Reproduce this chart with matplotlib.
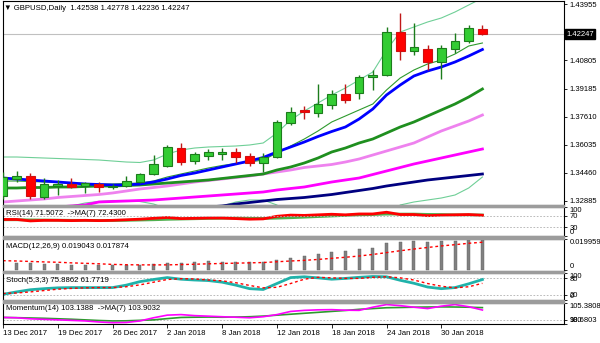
import matplotlib
matplotlib.use("Agg")
import matplotlib.pyplot as plt
import numpy as np
from matplotlib.patches import Rectangle

plt.rcParams['font.family'] = ['Liberation Sans', 'DejaVu Sans']
plt.rcParams['font.size'] = 5.6

# GBPUSD daily candles, 13 Dec 2017 .. 1 Feb 2018
opens = [1.33157, 1.34113, 1.34282, 1.33073, 1.33747, 1.33832, 1.33719, 1.33815, 1.33646, 1.33719,
         1.33961, 1.34378, 1.34844, 1.35873, 1.35142, 1.35423, 1.35536, 1.35648, 1.35407, 1.34996,
         1.35333, 1.37246, 1.37994, 1.37842, 1.38292, 1.38893, 1.38967, 1.39866, 1.39962, 1.42363,
         1.41312, 1.41407, 1.40710, 1.41441, 1.41891, 1.42538]
highs = [1.34507, 1.34591, 1.34467, 1.34169, 1.34029, 1.34152, 1.33961, 1.33961, 1.33832, 1.34299,
         1.34467, 1.35463, 1.36025, 1.36121, 1.35648, 1.35800, 1.35840, 1.35840, 1.35592, 1.35558,
         1.37431, 1.38179, 1.38219, 1.39456, 1.39118, 1.39456, 1.39962, 1.40243, 1.42645, 1.43466,
         1.42870, 1.41632, 1.41649, 1.42341, 1.42774, 1.42778]
lows = [1.32988, 1.33944, 1.32971, 1.33016, 1.33213, 1.33607, 1.33326, 1.33399, 1.33551, 1.33663,
        1.33916, 1.34310, 1.34788, 1.34900, 1.34957, 1.35182, 1.35182, 1.34996, 1.34861, 1.34524,
        1.35294, 1.37178, 1.37471, 1.37583, 1.38033, 1.38370, 1.38595, 1.39118, 1.39906, 1.40806,
        1.41087, 1.40243, 1.39737, 1.41216, 1.41745, 1.42236]
closes = [1.34242, 1.34282, 1.33185, 1.33815, 1.33804, 1.33680, 1.33871, 1.33646, 1.33719, 1.34001,
          1.34378, 1.34957, 1.35885, 1.35086, 1.35491, 1.35648, 1.35648, 1.35367, 1.35030, 1.35333,
          1.37302, 1.37898, 1.37881, 1.38314, 1.38893, 1.38556, 1.39833, 1.39962, 1.42363, 1.41312,
          1.41520, 1.40710, 1.41464, 1.41891, 1.42605, 1.42247]

# moving averages / bands on the price chart
band_upper = [1.35350, 1.35350, 1.35322, 1.35294, 1.35266, 1.35238, 1.35210, 1.35182, 1.35125, 1.35069,
              1.35041, 1.35182, 1.35519, 1.35744, 1.35856, 1.35913, 1.35941, 1.35969, 1.36025, 1.36138,
              1.36700, 1.37431, 1.37937, 1.38387, 1.38837, 1.39231, 1.39681, 1.40131, 1.41368, 1.42380,
              1.42662, 1.42943, 1.43168, 1.43505, 1.43899, 1.44292]
band_lower = [1.32370, 1.32426, 1.32482, 1.32538, 1.32595, 1.32595, 1.32764, 1.32848, 1.32904, 1.32904,
              1.32848, 1.32707, 1.32426, 1.32257, 1.32257, 1.32370, 1.32595, 1.32820, 1.32932, 1.32932,
              1.32651, 1.32088, 1.31695, 1.31470, 1.31357, 1.31301, 1.31357, 1.31470, 1.31920, 1.32651,
              1.32820, 1.32932, 1.33044, 1.33213, 1.33607, 1.34226]
ma_fast = [1.34001, 1.34001, 1.33972, 1.33944, 1.33916, 1.33888, 1.33860, 1.33832, 1.33832, 1.33860,
           1.33888, 1.34001, 1.34226, 1.34394, 1.34563, 1.34732, 1.34872, 1.34985, 1.35069, 1.35182,
           1.35575, 1.35969, 1.36363, 1.36813, 1.37319, 1.37656, 1.37994, 1.38331, 1.39118, 1.39793,
           1.40243, 1.40581, 1.40806, 1.41143, 1.41593, 1.41762]
ma_blue = [1.34169, 1.34113, 1.34057, 1.34001, 1.33944, 1.33888, 1.33832, 1.33804, 1.33776, 1.33776,
           1.33832, 1.33944, 1.34113, 1.34310, 1.34450, 1.34619, 1.34788, 1.34957, 1.35125, 1.35322,
           1.35632, 1.35913, 1.36194, 1.36503, 1.36784, 1.37038, 1.37487, 1.38050, 1.38837, 1.39400,
           1.39906, 1.40187, 1.40412, 1.40693, 1.41031, 1.41396]
ma_green = [1.33607, 1.33607, 1.33635, 1.33635, 1.33663, 1.33663, 1.33691, 1.33719, 1.33719, 1.33747,
            1.33776, 1.33832, 1.33888, 1.33944, 1.34001, 1.34057, 1.34141, 1.34226, 1.34310, 1.34394,
            1.34619, 1.34788, 1.35013, 1.35294, 1.35632, 1.35856, 1.36138, 1.36363, 1.36700, 1.37038,
            1.37319, 1.37656, 1.37994, 1.38331, 1.38725, 1.39175]
ma_violet = [1.32820, 1.32876, 1.32932, 1.32988, 1.33073, 1.33129, 1.33185, 1.33241, 1.33326, 1.33438,
             1.33551, 1.33635, 1.33719, 1.33832, 1.33944, 1.34029, 1.34113, 1.34197, 1.34282, 1.34394,
             1.34507, 1.34619, 1.34760, 1.34844, 1.34929, 1.35069, 1.35238, 1.35463, 1.35688, 1.35913,
             1.36138, 1.36475, 1.36813, 1.37094, 1.37375, 1.37712]
ma_magenta = [1.32313, 1.32370, 1.32426, 1.32482, 1.32538, 1.32595, 1.32651, 1.32820, 1.32848, 1.32876,
              1.32904, 1.32932, 1.32988, 1.33044, 1.33101, 1.33157, 1.33213, 1.33269, 1.33326, 1.33382,
              1.33494, 1.33579, 1.33663, 1.33804, 1.33944, 1.34057, 1.34169, 1.34366, 1.34563, 1.34760,
              1.34957, 1.35125, 1.35294, 1.35463, 1.35632, 1.35800]
ma_navy = [1.31695, 1.31751, 1.31807, 1.31863, 1.31920, 1.31976, 1.32032, 1.32088, 1.32145, 1.32201,
           1.32257, 1.32313, 1.32370, 1.32426, 1.32482, 1.32538, 1.32595, 1.32707, 1.32791, 1.32876,
           1.32960, 1.33016, 1.33073, 1.33157, 1.33241, 1.33354, 1.33466, 1.33579, 1.33719, 1.33832,
           1.33944, 1.34057, 1.34141, 1.34226, 1.34310, 1.34394]

rsi = [57, 57, 52, 54, 54, 53, 54, 53, 54, 56, 58, 61, 64, 60, 61, 62, 62, 60, 58, 59,
       68, 72, 71, 73, 75, 73, 76, 76, 82, 74, 74, 70, 72, 73, 74, 71.5072]
rsi_ma = [56, 56, 55.5, 55, 54.5, 54, 54, 53.5, 53.5, 54, 55, 56, 57.5, 58.5, 59.5, 60.5, 61, 61.5, 61, 60.5,
          61.5, 63, 65, 67, 69, 71, 73, 74, 75.5, 75.5, 75.5, 74.5, 74, 73, 73, 72.43]

macd = [0.0045, 0.0045, 0.0043, 0.0040, 0.0037, 0.0035, 0.0033, 0.0032, 0.0031, 0.0032,
        0.0034, 0.0038, 0.0045, 0.0048, 0.0052, 0.0055, 0.0054, 0.0053, 0.0051, 0.0050,
        0.0065, 0.0078, 0.0093, 0.0106, 0.0115, 0.0122, 0.0138, 0.0144, 0.0173, 0.0182,
        0.0188, 0.0182, 0.0188, 0.0188, 0.0192, 0.019043]
macd_signal = [0.0060, 0.0058, 0.0055, 0.0052, 0.0050, 0.0046, 0.0043, 0.0040, 0.0036, 0.0034,
               0.0033, 0.0033, 0.0033, 0.0035, 0.0037, 0.0040, 0.0042, 0.0044, 0.0046, 0.0048,
               0.0053, 0.0058, 0.0062, 0.0068, 0.0075, 0.0082, 0.0090, 0.0100, 0.0112, 0.0124,
               0.0135, 0.0145, 0.0155, 0.0163, 0.0172, 0.017874]

stoch_k = [21, 30, 38, 42, 45, 46, 46, 46, 46, 55, 68, 76, 83, 77, 74, 72, 66, 55, 42, 39,
           61, 83, 86, 82, 77, 80, 84, 87, 86, 73, 62, 48, 42, 46, 60, 75.8862]
stoch_d = [24, 26, 30, 35, 40, 43, 45, 46, 46, 49, 56, 66, 76, 79, 78, 74, 71, 64, 54, 45,
           47, 61, 77, 84, 82, 80, 80, 84, 86, 82, 74, 61, 51, 45, 49, 61.7719]

momentum = [100.77, 100.67, 100.34, 100.17, 100.0, 99.83, 99.66, 99.33, 99.09, 99.16,
            99.66, 100.67, 101.51, 101.68, 101.35, 101.18, 101.0, 100.84, 100.67, 101.0,
            101.68, 102.69, 103.03, 103.2, 103.26, 103.09, 103.03, 104.04, 104.88, 104.54,
            104.04, 103.6, 104.37, 104.88, 104.2, 103.1388]
momentum_ma = [100.77, 100.7, 100.6, 100.5, 100.35, 100.2, 100.0, 99.8, 99.66, 99.7,
               99.85, 100.0, 100.4, 100.77, 100.85, 100.9, 100.84, 100.9, 101.0, 101.2,
               101.5, 101.8, 102.1, 102.4, 102.7, 103.0, 103.36, 103.6, 103.87, 103.95,
               104.04, 104.1, 104.14, 104.1, 104.04, 103.9032]

date_ticks = [0, 4, 8, 12, 16, 20, 24, 28, 32]
date_labels = ["13 Dec 2017", "19 Dec 2017", "26 Dec 2017", "2 Jan 2018", "8 Jan 2018",
               "12 Jan 2018", "18 Jan 2018", "24 Jan 2018", "30 Jan 2018"]
price_ticks = [1.32885, 1.34460, 1.36035, 1.37610, 1.39185, 1.40805, 1.43955]

W, H = 600, 343
fig = plt.figure(figsize=(W / 100, H / 100), dpi=100)
fig.patch.set_facecolor("white")

X0, X1 = 2.5, 564


def panel(y0, y1):
    return fig.add_axes([X0 / W, 1 - y1 / H, (X1 - X0) / W, (y1 - y0) / H])


ax = panel(1, 205)
ax_rsi = panel(207, 236)
ax_macd = panel(239, 271)
ax_st = panel(273, 300)
ax_mom = panel(303, 324)
axes = [ax, ax_rsi, ax_macd, ax_st, ax_mom]

# splitter bars between windows
for y0, y1 in [(205, 207), (236, 239), (271, 273), (300, 303)]:
    fig.patches.append(Rectangle((X0 / W, 1 - y1 / H), (X1 - X0) / W, (y1 - y0) / H,
                                 transform=fig.transFigure, color="#9c9c9c", zorder=0))

x = np.arange(len(opens))
xlim = (-0.03, (X1 - X0) / 13.7 - 0.03)
for a in axes:
    a.set_xlim(*xlim)
    a.set_facecolor("white")
    for s in a.spines.values():
        s.set_color("black")
        s.set_linewidth(0.8)
    a.yaxis.tick_right()
    a.tick_params(axis="y", direction="out", length=2.5, width=0.6, pad=1.5, labelsize=5.5)
    a.tick_params(axis="x", bottom=False, labelbottom=False)

# ---- price window ----
ax.set_ylim(1.4418 - 0.0005624 * 205, 1.4418 - 0.0005624 * 1)
ax.set_yticks(price_ticks, [f"{t:.5f}" for t in price_ticks])

ax.plot(x, band_upper, color="#6fcf97", lw=0.8, zorder=2)
ax.plot(x, band_lower, color="#6fcf97", lw=0.8, zorder=2)
ax.plot(x, ma_navy, color="#000080", lw=2, zorder=2)
ax.plot(x, ma_magenta, color="#ff00ff", lw=2, zorder=2)
ax.plot(x, ma_violet, color="#ee82ee", lw=2, zorder=2)
ax.plot(x, ma_green, color="#1f8f1f", lw=2, zorder=2)
ax.plot(x, ma_fast, color="#2e9a2e", lw=0.8, zorder=2)
ax.plot(x, ma_blue, color="#0000ff", lw=2, zorder=2)

o, h, l, c = map(np.array, (opens, highs, lows, closes))
up = c >= o
wick = np.where(up, "#1c7c1c", "#c01818")
fill = np.where(up, "#33cc33", "#ff0000")
edge = np.where(up, "#1c7c1c", "#d01010")
ax.vlines(x, l, h, colors=wick, lw=1, zorder=3)
body = np.maximum(np.abs(c - o), 0.00015)
ax.bar(x, body, bottom=np.minimum(o, c), width=0.64, color=fill, edgecolor=edge,
       linewidth=0.8, zorder=4)

ax.axhline(closes[-1], color="#c0c0c0", lw=0.8, zorder=1)
fig.text(566 / W, 1 - 34 / H, f"{closes[-1]:.5f}", color="white", fontsize=5.5,
         va="center", ha="left",
         bbox=dict(facecolor="black", edgecolor="black", pad=1.0))
fig.text(4 / W, 1 - 9 / H, "\u25bc GBPUSD,Daily  1.42538 1.42778 1.42236 1.42247",
         fontsize=5.6, va="center", ha="left")

# ---- RSI ----
ax_rsi.set_ylim(0, 100)
ax_rsi.plot(x, rsi_ma, color="#4fb04f", lw=2)
ax_rsi.plot(x, rsi, color="#ff0000", lw=2)
for lv in (70, 30):
    ax_rsi.axhline(lv, color="#b0b0b0", lw=0.6, ls=(0, (2, 2)))
ax_rsi.set_yticks([100, 70, 30, 0], ["100", "70", "30", "0"])
ax_rsi.text(0.006, 0.78, "RSI(14) 71.5072  ->MA(7) 72.4300", transform=ax_rsi.transAxes,
            fontsize=5.6, va="center")

# ---- MACD ----
ax_macd.set_ylim(-0.000644, 0.019959)
ax_macd.bar(x, macd, width=0.22, color="#808080", edgecolor="#606060", linewidth=0.3)
ax_macd.plot(x, macd_signal, color="#ff0000", lw=1, ls=(0, (2, 2)))
ax_macd.set_yticks([0.019959, 0], ["0.019959", "0"])
ax_macd.text(0.006, 0.78, "MACD(12,26,9) 0.019043 0.017874", transform=ax_macd.transAxes,
             fontsize=5.6, va="center")

# ---- Stochastic ----
ax_st.set_ylim(0, 100)
for lv in (80, 20):
    ax_st.axhline(lv, color="#b0b0b0", lw=0.6, ls=(0, (2, 2)))
ax_st.plot(x, stoch_k, color="#20b2aa", lw=2)
ax_st.plot(x, stoch_d, color="#ff0000", lw=1, ls=(0, (2, 2)))
ax_st.set_yticks([100, 80, 20, 0], ["100", "80", "20", "0"])
ax_st.text(0.006, 0.74, "Stoch(5,3,3) 75.8862 61.7719", transform=ax_st.transAxes,
           fontsize=5.6, va="center")

# ---- Momentum ----
ax_mom.set_ylim(98.6803, 105.3808)
ax_mom.axhline(100, color="#b0b0b0", lw=0.6, ls=(0, (2, 2)))
ax_mom.plot(x, momentum_ma, color="#2e9a2e", lw=1.2)
ax_mom.plot(x, momentum, color="#ff00ff", lw=1.2)
ax_mom.set_yticks([105.3808, 100, 98.6803], ["105.3808", "100", "98.6803"])
ax_mom.text(0.006, 0.72, "Momentum(14) 103.1388  ->MA(7) 103.9032", transform=ax_mom.transAxes,
            fontsize=5.6, va="center")

# keep the edge labels inside their windows
for a in (ax_rsi, ax_macd, ax_st, ax_mom):
    labels = a.get_yticklabels()
    labels[0].set_va("top")
    labels[-1].set_va("bottom")

ax_mom.tick_params(axis="x", bottom=True, labelbottom=True, direction="out",
                   length=3, width=0.6, pad=1, labelsize=5.6)
ax_mom.set_xticks(date_ticks, date_labels)
for t in ax_mom.get_xticklabels():
    t.set_ha("left")

fig.savefig("out.png", dpi=100)
